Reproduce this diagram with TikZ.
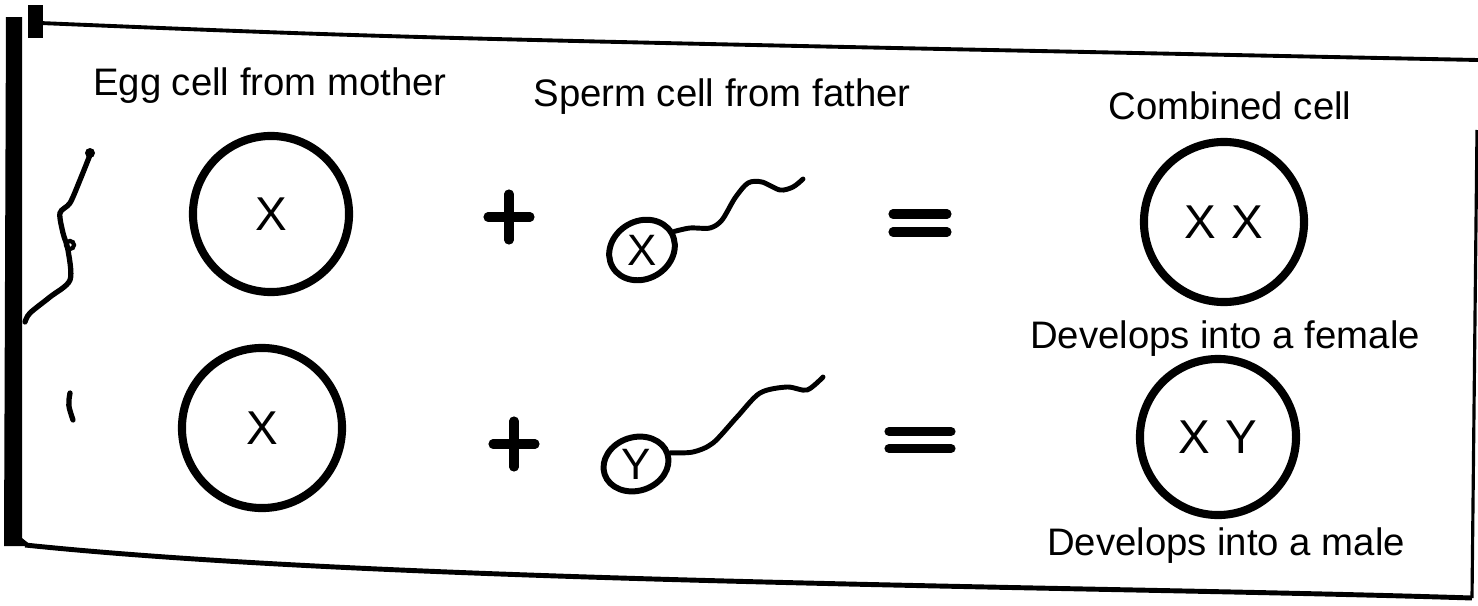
\documentclass[tikz,border=0pt]{standalone}
\usepackage{fontspec}
\setmainfont{Liberation Sans}
\usepackage{tikz}
\usetikzlibrary{shapes.geometric}
\usepackage{xcolor}

\begin{document}
\begin{tikzpicture}[x=0.01cm,y=-0.01cm,
		cell/.style={draw,circle,line width=2.3pt,minimum size=1.56cm,inner sep=0pt,font=\fontsize{13.5}{15}\selectfont},
		head/.style={draw,ellipse,line width=1.7pt,inner sep=0pt,font=\fontsize{12.5}{14}\selectfont},
		tail/.style={line width=1.4pt,line cap=round},
		sign/.style={line width=2.6pt,line cap=round},
		caption/.style={anchor=base,inner sep=0pt,font=\fontsize{10.9}{13}\selectfont}]
		\useasboundingbox (0,0) rectangle (1478,606);
		
		% frame round the sheet
		\fill (6,17) -- (22,17) -- (22,538) -- (32,546) -- (4,546) -- cycle;
		\fill (28,5) rectangle (43,38);
		\draw[line width=1.1pt] (40,23) .. controls (400,38) .. (1478,60);
		\draw[line width=0.9pt] (1477,130) -- (1472,598);
		\draw[line width=1.4pt] (25,545) .. controls (400,584) and (1100,586) .. (1472,598);
		% torn edge at the left
		\fill (90,153) circle [radius=5];
		\draw[line width=1.5pt,line cap=round] plot[smooth] coordinates {(90,155) (80,180) (70,203) (60,213) (63,233) (68,250) (70,280) (50,297) (30,313) (25,322)};
		\draw[line width=1.2pt] (70,245) circle [radius=4];
		\draw[line width=1.5pt,line cap=round] (70,393) .. controls (68,405) .. (73,420);
		
		% headings
		\node[caption] (T1) at (270,95) {Egg cell from mother};
		\node[caption] (T2) at (722,106) {Sperm cell from father};
		\node[caption] (T3) at (1230,120) {Combined cell};
		
		% egg cells
		\node[cell] (E1) at (271,214) {X};
		\node[cell,minimum size=1.6cm] (E2) at (262,428) {X};
		
		% sperm cells
		\node[head,minimum width=0.68cm,minimum height=0.54cm,rotate=30] (S1) at (642,250) {\rotatebox{-30}{X}};
		\node[head,minimum width=0.66cm,minimum height=0.52cm,rotate=18] (S2) at (636,464) {\rotatebox{-18}{Y}};
		\coordinate (F1) at (803,179);
		\coordinate (F2) at (823,377);
		\draw[tail] plot[smooth] coordinates {(S1.east) (690,228) (710,228) (722,220) (735,198) (748,183) (762,182) (780,190) (793,187) (F1)};
		\draw[tail] plot[smooth] coordinates {(S2.east) (693,452) (713,443) (737,417) (760,393) (787,387) (807,390) (F2)};
		
		% plus and equals signs
		\coordinate (P1) at (509,217);
		\coordinate (P2) at (514,444);
		\foreach \p in {P1,P2}{
			\draw[sign] (\p) ++(-21,0) -- ++(42,0);
			\draw[sign] (\p) ++(0,-23) -- ++(0,46);
		}
		\coordinate (Q1) at (920,223);
		\coordinate (Q2) at (920,440);
		\draw[sign] (Q1) ++(-27,-9) -- ++(54,0);
		\draw[sign] (Q1) ++(-27,9) -- ++(54,0);
		\draw[sign] (Q2) ++(-31,-8.5) -- ++(62,0);
		\draw[sign] (Q2) ++(-31,8.5) -- ++(62,0);
		
		% combined cells
		\node[cell,minimum size=1.6cm] (C1) at (1224,222) {X\,\,X};
		\node[cell] (C2) at (1218,437) {X\,\,Y};
		\node[caption] (R1) at (1225,348) {Develops into a female};
		\node[caption] (R2) at (1226,555) {Develops into a male};
\end{tikzpicture}
\end{document}
